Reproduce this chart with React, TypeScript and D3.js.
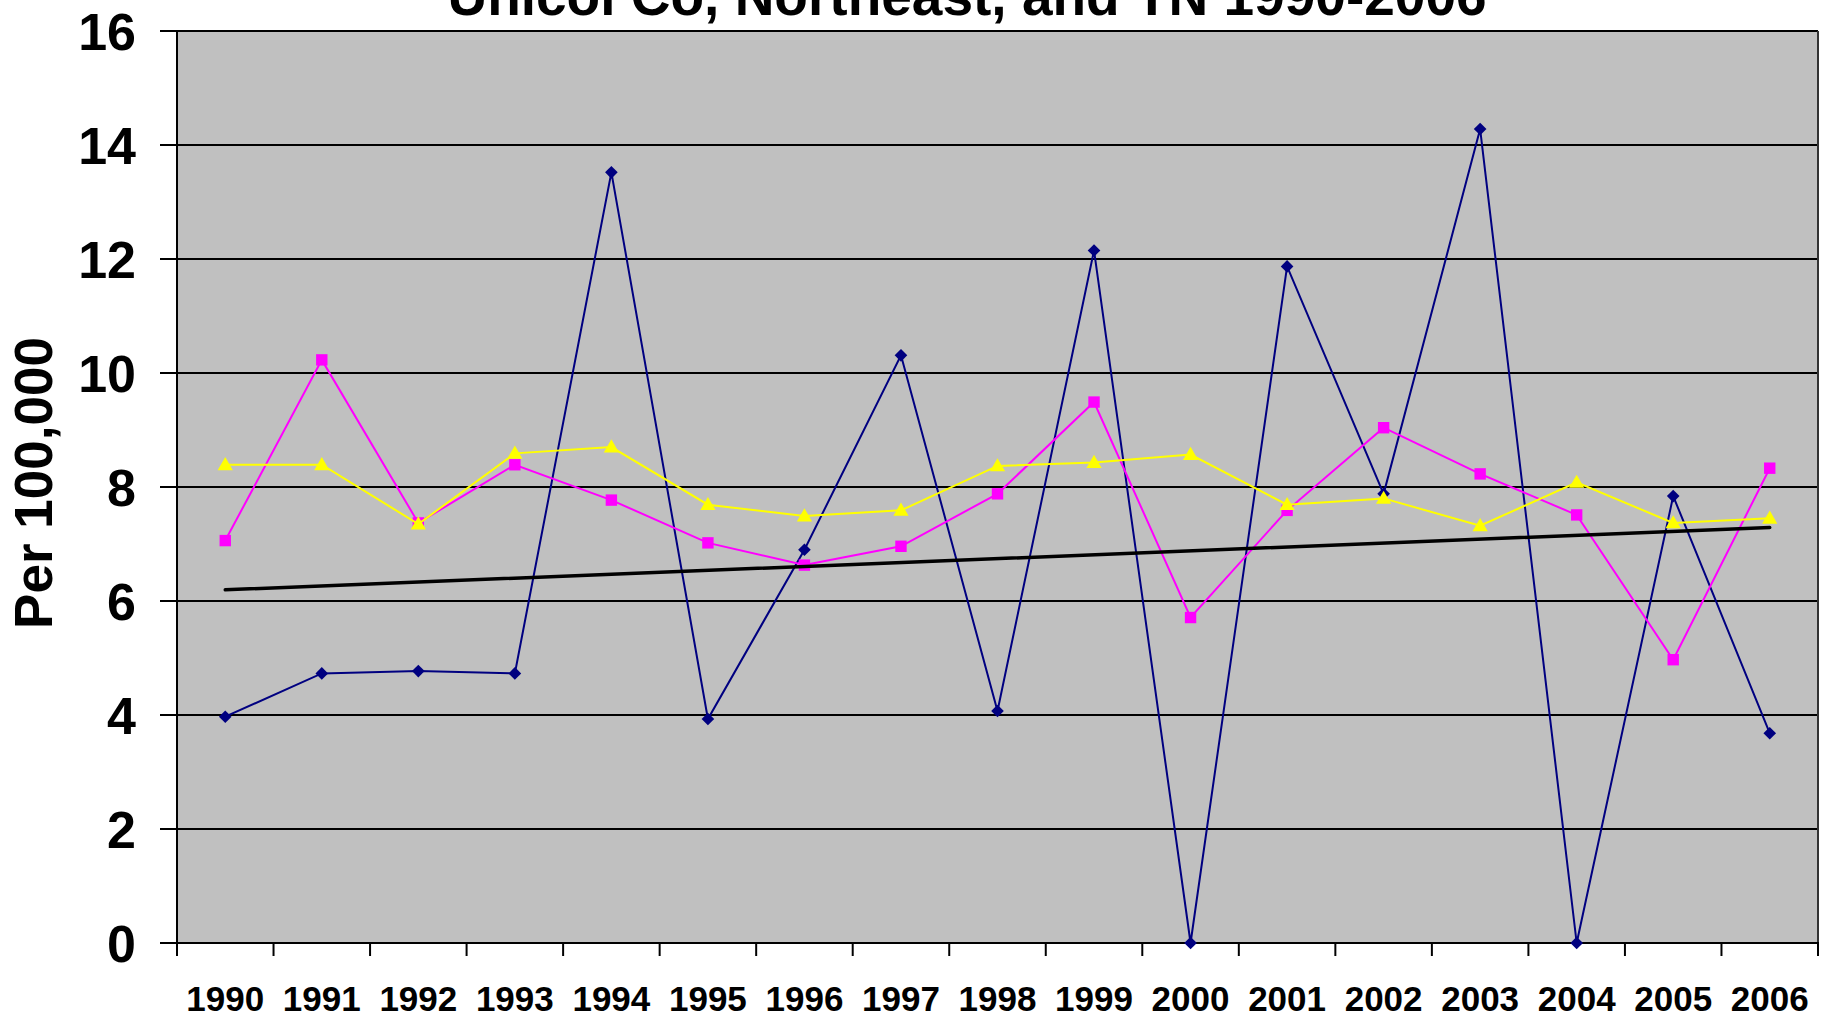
import React from 'react'
import * as d3 from 'd3'

// values, per 100,000
const years = ['1990', '1991', '1992', '1993', '1994', '1995', '1996', '1997', '1998', '1999',
    '2000', '2001', '2002', '2003', '2004', '2005', '2006']
const unicoi = [3.97, 4.73, 4.77, 4.73, 13.52, 3.93, 6.9, 10.31, 4.07, 12.15,
    0, 11.87, 7.88, 14.28, 0, 7.84, 3.68]
const northeast = [7.06, 10.23, 7.37, 8.39, 7.77, 7.02, 6.63, 6.96, 7.88, 9.49,
    5.71, 7.59, 9.04, 8.23, 7.51, 4.97, 8.33]
const tennessee = [8.39, 8.39, 7.35, 8.59, 8.7, 7.69, 7.49, 7.59, 8.37, 8.43,
    8.57, 7.69, 7.8, 7.32, 8.08, 7.37, 7.45]
const yTicks = [0, 2, 4, 6, 8, 10, 12, 14, 16]
const title = 'Unicoi Co, Northeast, and TN 1990-2006'
const yTitle = 'Per 100,000'

const W = 1827
const H = 1017
const plot = { left: 177, right: 1818, top: 31, bottom: 943 }
const font = '"Liberation Sans", Arial, sans-serif'

// least squares line through the first series (Excel linear trendline)
const linearFit = (vals: number[]) => {
    const n = vals.length
    const mx = d3.mean(vals.map((_, i) => i)) as number
    const my = d3.mean(vals) as number
    let num = 0
    let den = 0
    vals.forEach((v, i) => {
        num += (i - mx) * (v - my)
        den += (i - mx) * (i - mx)
    })
    const slope = num / den
    return [0, n - 1].map(i => my + slope * (i - mx))
}

export default function App() {
    const x = d3.scaleBand<string>().domain(years).range([plot.left, plot.right]).padding(0)
    const y = d3.scaleLinear().domain([0, 16]).range([plot.bottom, plot.top])
    const cx = (i: number) => (x(years[i]) as number) + x.bandwidth() / 2

    const line = d3.line<number>().x((_, i) => cx(i)).y(d => y(d))

    const diamond = d3.symbol(d3.symbolSquare, 80)()
    const square = d3.symbol(d3.symbolSquare, 130)()
    const triangle = d3.symbol(d3.symbolTriangle, 100)()

    const trend = linearFit(unicoi)
    const boundaries = years.map(yr => x(yr) as number).concat([plot.right])

    return (
        <svg width={W} height={H} style={{ position: 'absolute', left: 0, top: 0, background: '#fff' }}>
            <rect x={plot.left} y={plot.top} width={plot.right - plot.left} height={plot.bottom - plot.top}
                  fill="#C0C0C0" />
            {yTicks.slice(1, -1).map(t => (
                <line key={`g-${t}`} x1={plot.left} x2={plot.right} y1={y(t)} y2={y(t)}
                      stroke="#000" strokeWidth={2} />
            ))}
            {/* plot border: top and right */}
            <line x1={plot.left} x2={plot.right} y1={plot.top} y2={plot.top} stroke="#000" strokeWidth={2} />
            <line x1={plot.right} x2={plot.right} y1={plot.top} y2={plot.bottom} stroke="#333" strokeWidth={2} />

            {/* axes */}
            <line x1={plot.left} x2={plot.left} y1={plot.top - 1} y2={plot.bottom} stroke="#000" strokeWidth={2} />
            <line x1={plot.left - 17} x2={plot.right + 1} y1={plot.bottom} y2={plot.bottom} stroke="#000" strokeWidth={2} />
            {yTicks.map(t => (
                <g key={`yt-${t}`}>
                    <line x1={plot.left - 17} x2={plot.left} y1={y(t)} y2={y(t)} stroke="#000" strokeWidth={2} />
                    <text x={136} y={y(t)} dy="0.36em" textAnchor="end" fontFamily={font}
                          fontWeight="bold" fontSize={52}>{t}</text>
                </g>
            ))}
            {boundaries.map((b, i) => (
                <line key={`xt-${i}`} x1={b} x2={b} y1={plot.bottom} y2={plot.bottom + 13}
                      stroke="#000" strokeWidth={2} />
            ))}
            {years.map((yr, i) => (
                <text key={`xl-${yr}`} x={cx(i)} y={1011} textAnchor="middle" fontFamily={font}
                      fontWeight="bold" fontSize={35}>{yr}</text>
            ))}

            <text x={52} y={483} transform="rotate(-90 52 483)" textAnchor="middle" fontFamily={font}
                  fontWeight="bold" fontSize={53}>{yTitle}</text>
            <text x={967} y={15} textAnchor="middle" fontFamily={font} fontWeight="bold"
                  fontSize={55}>{title}</text>

            {/* series */}
            <path d={line(unicoi) as string} fill="none" stroke="#000080" strokeWidth={2} />
            {unicoi.map((v, i) => (
                <path key={`d-${i}`} d={diamond as string} fill="#000080"
                      transform={`translate(${cx(i)},${y(v)}) rotate(45)`} />
            ))}
            <path d={line(northeast) as string} fill="none" stroke="#FF00FF" strokeWidth={2} />
            {northeast.map((v, i) => (
                <path key={`s-${i}`} d={square as string} fill="#FF00FF"
                      transform={`translate(${cx(i)},${y(v)})`} />
            ))}
            <path d={line(tennessee) as string} fill="none" stroke="#FFFF00" strokeWidth={2} />
            {tennessee.map((v, i) => (
                <path key={`t-${i}`} d={triangle as string} fill="#FFFF00"
                      transform={`translate(${cx(i)},${y(v) + 1})`} />
            ))}

            {/* trendline */}
            <line x1={cx(0)} x2={cx(years.length - 1)} y1={y(trend[0])} y2={y(trend[1])}
                  stroke="#000" strokeWidth={3.5} strokeLinecap="round" />
        </svg>
    )
}
